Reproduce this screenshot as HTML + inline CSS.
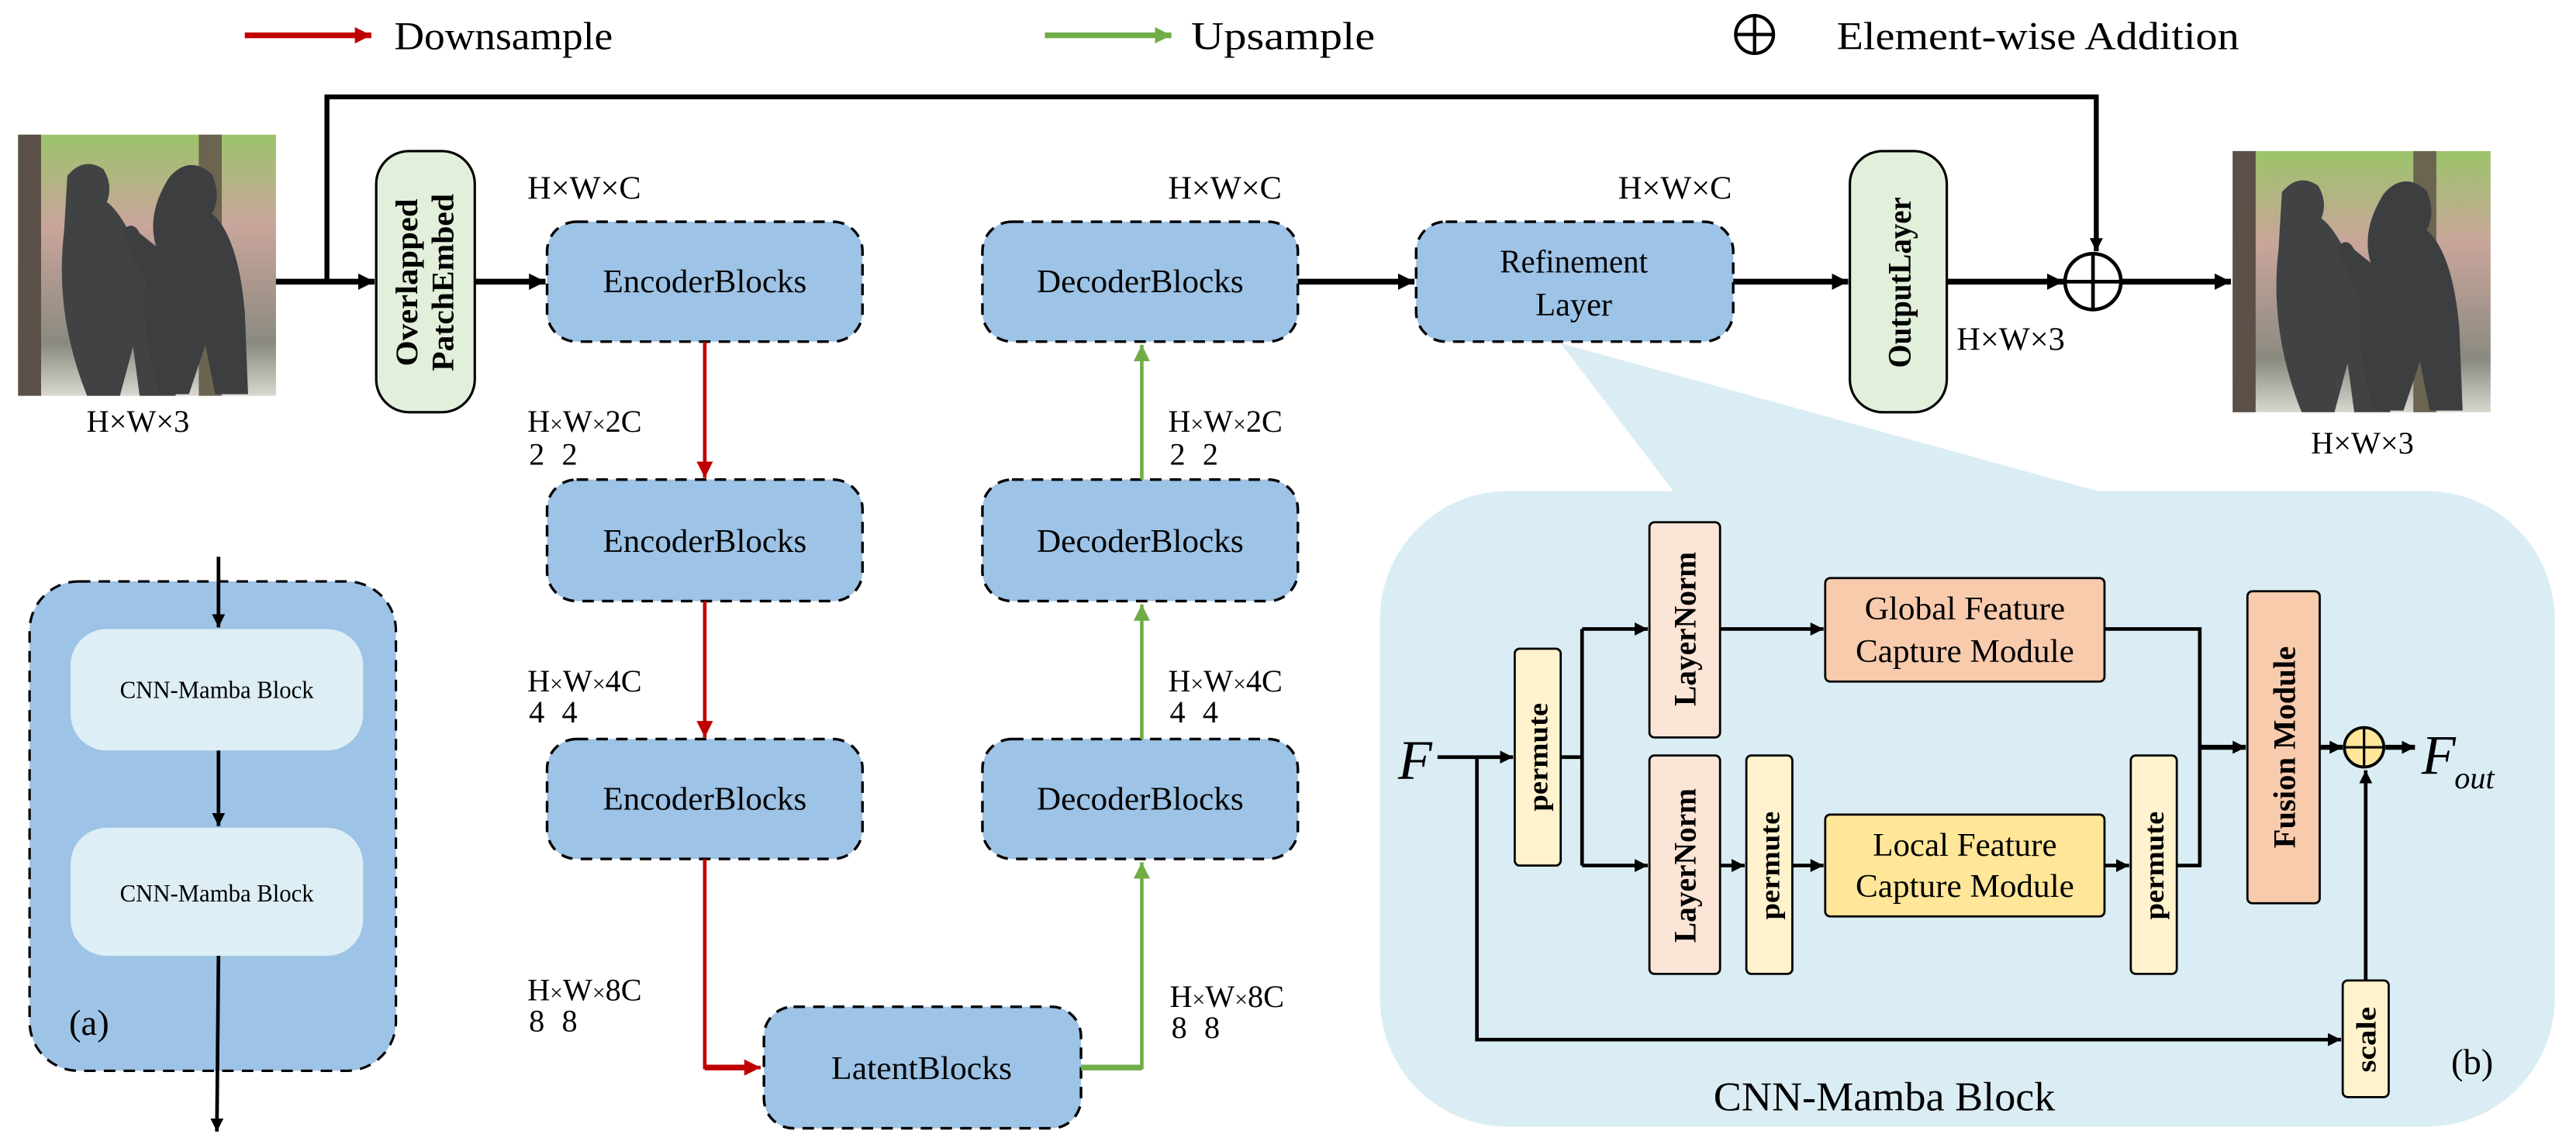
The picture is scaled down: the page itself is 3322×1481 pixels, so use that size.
<!DOCTYPE html>
<html><head><meta charset="utf-8"><style>
html,body{margin:0;padding:0;background:#fff;}
svg{display:block;}
svg text{font-family:"Liberation Serif","Noto Serif CJK SC","DejaVu Serif",serif !important;fill:#000;}
</style></head><body>
<svg width="3322" height="1481" viewBox="0 0 1568 699" preserveAspectRatio="none" xmlns="http://www.w3.org/2000/svg" font-family="Liberation Serif, Noto Serif CJK SC, serif">
<defs>
<marker id="ak" markerUnits="userSpaceOnUse" markerWidth="12" markerHeight="12" refX="10" refY="5" orient="auto"><path d="M0,0 L10,5 L0,10 z" fill="#000"/></marker>
<marker id="aks" markerUnits="userSpaceOnUse" markerWidth="10" markerHeight="10" refX="8" refY="4" orient="auto"><path d="M0,0 L8,4 L0,8 z" fill="#000"/></marker>
<marker id="ar" markerUnits="userSpaceOnUse" markerWidth="12" markerHeight="12" refX="10" refY="5" orient="auto"><path d="M0,0 L10,5 L0,10 z" fill="#c00000"/></marker>
<marker id="ag" markerUnits="userSpaceOnUse" markerWidth="12" markerHeight="12" refX="10" refY="5" orient="auto"><path d="M0,0 L10,5 L0,10 z" fill="#70ad47"/></marker>
<linearGradient id="bg" x1="0" y1="0" x2="0" y2="1"><stop offset="0" stop-color="#9cc46a"/><stop offset="0.35" stop-color="#c9a59b"/><stop offset="0.8" stop-color="#8a8a80"/><stop offset="1" stop-color="#d8d8d0"/></linearGradient>
<g id="photo">
<rect x="0" y="0" width="157" height="159" fill="url(#bg)"/>
<rect x="0" y="0" width="14" height="159" fill="#5a5048"/>
<rect x="110" y="0" width="14" height="159" fill="#6b6450"/>
<path d="M30,25 q10,-12 22,-4 q6,10 2,20 q14,10 30,60 q10,30 12,58 l-22,0 l-4,-30 l-8,30 l-20,0 q-20,-50 -14,-100 z" fill="#404244"/>
<path d="M92,26 q12,-14 26,-2 q6,14 0,24 q16,14 20,60 l2,50 l-20,0 l-6,-30 l-10,30 l-18,0 q-12,-40 -8,-70 q-8,-10 -14,-30 q6,-6 10,2 l10,8 q-6,-20 8,-42 z" fill="#3c3e40"/>
</g>
</defs>

<line x1="149" y1="21.5" x2="226" y2="21.5" stroke="#c00000" stroke-width="3.5" marker-end="url(#ar)"/>
<text x="240" y="30" font-size="24" textLength="133" lengthAdjust="spacingAndGlyphs">Downsample</text>
<line x1="636" y1="21.5" x2="713" y2="21.5" stroke="#70ad47" stroke-width="3.5" marker-end="url(#ag)"/>
<text x="725" y="30" font-size="24" textLength="112" lengthAdjust="spacingAndGlyphs">Upsample</text>
<circle cx="1068" cy="21" r="11.5" fill="none" stroke="#000" stroke-width="2"/>
<line x1="1056.5" y1="21" x2="1079.5" y2="21" stroke="#000" stroke-width="2"/>
<line x1="1068" y1="9.5" x2="1068" y2="32.5" stroke="#000" stroke-width="2"/>
<text x="1118" y="30" font-size="24" textLength="245" lengthAdjust="spacingAndGlyphs">Element-wise Addition</text>

<use href="#photo" transform="translate(11,82)"/>
<use href="#photo" transform="translate(1359,92)"/>
<text x="84" y="263" font-size="19" text-anchor="middle">H×W×3</text>
<text x="1438" y="276" font-size="19" text-anchor="middle">H×W×3</text>

<polyline points="199,171 199,59 1276,59 1276,153" fill="none" stroke="#000" stroke-width="3" marker-end="url(#aks)"/>

<line x1="168" y1="171.5" x2="228" y2="171.5" stroke="#000" stroke-width="3.5" marker-end="url(#ak)"/>
<rect x="229" y="92" width="60" height="159" rx="20" fill="#e2efda" stroke="#000" stroke-width="1.5"/>
<text transform="translate(254,172) rotate(-90)" font-size="19" font-weight="bold" text-anchor="middle" textLength="102" lengthAdjust="spacingAndGlyphs">Overlapped</text>
<text transform="translate(276,172) rotate(-90)" font-size="19" font-weight="bold" text-anchor="middle" textLength="108" lengthAdjust="spacingAndGlyphs">PatchEmbed</text>
<line x1="289" y1="171.5" x2="332" y2="171.5" stroke="#000" stroke-width="3.5" marker-end="url(#ak)"/>

<g fill="#9dc3e6" stroke="#000" stroke-width="1.6" stroke-dasharray="7,5">
<rect x="333" y="135" width="192" height="73" rx="18"/>
<rect x="333" y="292" width="192" height="74" rx="18"/>
<rect x="333" y="450" width="192" height="73" rx="18"/>
<rect x="598" y="135" width="192" height="73" rx="18"/>
<rect x="598" y="292" width="192" height="74" rx="18"/>
<rect x="598" y="450" width="192" height="73" rx="18"/>
<rect x="465" y="613" width="193" height="74" rx="18"/>
<rect x="862" y="135" width="193" height="73" rx="18"/>
</g>
<g font-size="20" text-anchor="middle">
<text x="429" y="178" textLength="124" lengthAdjust="spacingAndGlyphs">EncoderBlocks</text>
<text x="429" y="336" textLength="124" lengthAdjust="spacingAndGlyphs">EncoderBlocks</text>
<text x="429" y="493" textLength="124" lengthAdjust="spacingAndGlyphs">EncoderBlocks</text>
<text x="694" y="178" textLength="126" lengthAdjust="spacingAndGlyphs">DecoderBlocks</text>
<text x="694" y="336" textLength="126" lengthAdjust="spacingAndGlyphs">DecoderBlocks</text>
<text x="694" y="493" textLength="126" lengthAdjust="spacingAndGlyphs">DecoderBlocks</text>
<text x="561" y="657" textLength="110" lengthAdjust="spacingAndGlyphs">LatentBlocks</text>
<text x="958" y="166" textLength="90" lengthAdjust="spacingAndGlyphs">Refinement</text>
<text x="958" y="192">Layer</text>
</g>

<g fill="none" stroke-width="2.2">
<line x1="429" y1="208" x2="429" y2="291" stroke="#c00000" marker-end="url(#ar)"/>
<line x1="429" y1="366" x2="429" y2="449" stroke="#c00000" marker-end="url(#ar)"/>
<polyline points="429,523 429,650 463,650" stroke="#c00000" marker-end="url(#ar)"/>
<polyline points="658,650 695,650 695,525" stroke="#70ad47" marker-end="url(#ag)"/>
<line x1="695" y1="450" x2="695" y2="368" stroke="#70ad47" marker-end="url(#ag)"/>
<line x1="695" y1="292" x2="695" y2="210" stroke="#70ad47" marker-end="url(#ag)"/>
</g>
<line x1="429" y1="650" x2="455" y2="650" stroke="#c00000" stroke-width="3.5"/>
<line x1="658" y1="650" x2="695" y2="650" stroke="#70ad47" stroke-width="3.5"/>

<g font-size="20">
<text x="321" y="121">H×W×C</text>
<text x="711" y="121">H×W×C</text>
<text x="985" y="121">H×W×C</text>
<text x="1191" y="213">H×W×3</text>
</g>
<g font-size="19">
<text x="321" y="263">H<tspan font-size="14">×</tspan>W<tspan font-size="14">×</tspan>2C</text><text x="322" y="283">2</text><text x="342" y="283">2</text>
<text x="321" y="421">H<tspan font-size="14">×</tspan>W<tspan font-size="14">×</tspan>4C</text><text x="322" y="440">4</text><text x="342" y="440">4</text>
<text x="321" y="609">H<tspan font-size="14">×</tspan>W<tspan font-size="14">×</tspan>8C</text><text x="322" y="628">8</text><text x="342" y="628">8</text>
<text x="711" y="263">H<tspan font-size="14">×</tspan>W<tspan font-size="14">×</tspan>2C</text><text x="712" y="283">2</text><text x="732" y="283">2</text>
<text x="711" y="421">H<tspan font-size="14">×</tspan>W<tspan font-size="14">×</tspan>4C</text><text x="712" y="440">4</text><text x="732" y="440">4</text>
<text x="712" y="613">H<tspan font-size="14">×</tspan>W<tspan font-size="14">×</tspan>8C</text><text x="713" y="632">8</text><text x="733" y="632">8</text>
</g>

<line x1="790" y1="171.5" x2="861" y2="171.5" stroke="#000" stroke-width="3.5" marker-end="url(#ak)"/>
<line x1="1055" y1="171.5" x2="1125" y2="171.5" stroke="#000" stroke-width="3.5" marker-end="url(#ak)"/>
<rect x="1126" y="92" width="59" height="159" rx="20" fill="#e2efda" stroke="#000" stroke-width="1.5"/>
<text transform="translate(1163,172) rotate(-90)" font-size="20" font-weight="bold" text-anchor="middle" textLength="104" lengthAdjust="spacingAndGlyphs">OutputLayer</text>
<line x1="1185" y1="171.5" x2="1256" y2="171.5" stroke="#000" stroke-width="3.5" marker-end="url(#ak)"/>
<circle cx="1274" cy="171.5" r="17" fill="#fff" stroke="#000" stroke-width="2.2"/>
<line x1="1257" y1="171.5" x2="1291" y2="171.5" stroke="#000" stroke-width="2.2"/>
<line x1="1274" y1="154.5" x2="1274" y2="188.5" stroke="#000" stroke-width="2.2"/>
<line x1="1291" y1="171.5" x2="1358" y2="171.5" stroke="#000" stroke-width="3.5" marker-end="url(#ak)"/>

<rect x="18" y="354" width="223" height="298" rx="30" fill="#9dc3e6" stroke="#000" stroke-width="1.5" stroke-dasharray="7,5"/>
<rect x="43" y="383" width="178" height="74" rx="22" fill="#deeef5"/>
<rect x="43" y="504" width="178" height="78" rx="22" fill="#deeef5"/>
<text x="132" y="425" font-size="15" text-anchor="middle" textLength="118" lengthAdjust="spacingAndGlyphs">CNN-Mamba Block</text>
<text x="132" y="549" font-size="15" text-anchor="middle" textLength="118" lengthAdjust="spacingAndGlyphs">CNN-Mamba Block</text>
<text x="42" y="630" font-size="22">(a)</text>
<g stroke="#000" stroke-width="2.2">
<line x1="133" y1="339" x2="133" y2="382" marker-end="url(#aks)"/>
<line x1="133" y1="457" x2="133" y2="503" marker-end="url(#aks)"/>
<line x1="133" y1="582" x2="132" y2="689" marker-end="url(#aks)"/>
</g>

<polygon points="950,209 1020,301 1284,301" fill="#daedf4"/>
<rect x="840" y="299" width="715" height="387" rx="78" fill="#daedf4"/>

<g stroke="#000" stroke-width="1.3">
<rect x="922" y="395" width="28" height="132" rx="3" fill="#fff2cc"/>
<rect x="1004" y="318" width="43" height="131" rx="3" fill="#fbe5d6"/>
<rect x="1004" y="460" width="43" height="133" rx="3" fill="#fbe5d6"/>
<rect x="1063" y="460" width="28" height="133" rx="3" fill="#fff2cc"/>
<rect x="1111" y="352" width="170" height="63" rx="3" fill="#f8cbad"/>
<rect x="1111" y="496" width="170" height="62" rx="3" fill="#ffe699"/>
<rect x="1297" y="460" width="28" height="133" rx="3" fill="#fff2cc"/>
<rect x="1368" y="360" width="44" height="190" rx="3" fill="#f8cbad"/>
<rect x="1426" y="597" width="28" height="71" rx="3" fill="#fff2cc"/>
</g>
<g font-weight="bold" text-anchor="middle">
<text transform="translate(942,461) rotate(-90)" font-size="17" textLength="66" lengthAdjust="spacingAndGlyphs">permute</text>
<text transform="translate(1032,383) rotate(-90)" font-size="19" textLength="94" lengthAdjust="spacingAndGlyphs">LayerNorm</text>
<text transform="translate(1032,527) rotate(-90)" font-size="19" textLength="94" lengthAdjust="spacingAndGlyphs">LayerNorm</text>
<text transform="translate(1083,527) rotate(-90)" font-size="17" textLength="66" lengthAdjust="spacingAndGlyphs">permute</text>
<text transform="translate(1317,527) rotate(-90)" font-size="17" textLength="66" lengthAdjust="spacingAndGlyphs">permute</text>
<text transform="translate(1397,455) rotate(-90)" font-size="19" textLength="123" lengthAdjust="spacingAndGlyphs">Fusion Module</text>
<text transform="translate(1446,633) rotate(-90)" font-size="17" textLength="40" lengthAdjust="spacingAndGlyphs">scale</text>
</g>
<g font-size="20" text-anchor="middle">
<text x="1196" y="377" textLength="122" lengthAdjust="spacingAndGlyphs">Global Feature</text>
<text x="1196" y="403" textLength="133" lengthAdjust="spacingAndGlyphs">Capture Module</text>
<text x="1196" y="521" textLength="112" lengthAdjust="spacingAndGlyphs">Local Feature</text>
<text x="1196" y="546" textLength="133" lengthAdjust="spacingAndGlyphs">Capture Module</text>
</g>
<text x="1147" y="676" font-size="25" text-anchor="middle" textLength="208" lengthAdjust="spacingAndGlyphs">CNN-Mamba Block</text>
<text x="1492" y="654" font-size="22">(b)</text>
<text x="851" y="474" font-size="34" font-style="italic">F</text>
<text x="1474" y="471" font-size="34" font-style="italic">F</text>
<text x="1494" y="480" font-size="19" font-style="italic">out</text>

<g fill="none" stroke="#000" stroke-width="2.2">
<line x1="875" y1="461" x2="921" y2="461" marker-end="url(#aks)"/>
<polyline points="899,461 899,633 1425,633" marker-end="url(#aks)"/>
<line x1="950" y1="461" x2="963" y2="461"/>
<polyline points="963,383 963,527"/>
<line x1="963" y1="383" x2="1003" y2="383" marker-end="url(#aks)"/>
<line x1="963" y1="527" x2="1003" y2="527" marker-end="url(#aks)"/>
<line x1="1047" y1="383" x2="1110" y2="383" marker-end="url(#aks)"/>
<line x1="1047" y1="527" x2="1062" y2="527" marker-end="url(#aks)"/>
<line x1="1091" y1="527" x2="1110" y2="527" marker-end="url(#aks)"/>
<line x1="1281" y1="527" x2="1296" y2="527" marker-end="url(#aks)"/>
<polyline points="1281,383 1339,383 1339,527 1325,527"/>
<line x1="1339" y1="455" x2="1367" y2="455" stroke-width="3" marker-end="url(#aks)"/>
<line x1="1412" y1="455" x2="1426" y2="455" stroke-width="3" marker-end="url(#aks)"/>
<line x1="1452" y1="455" x2="1470" y2="455" stroke-width="3" marker-end="url(#aks)"/>
<line x1="1440" y1="597" x2="1440" y2="469" marker-end="url(#aks)"/>
</g>
<circle cx="1439" cy="455" r="12" fill="#ffe699" stroke="#000" stroke-width="1.8"/>
<line x1="1427" y1="455" x2="1451" y2="455" stroke="#000" stroke-width="1.5"/>
<line x1="1439" y1="443" x2="1439" y2="467" stroke="#000" stroke-width="1.5"/>
</svg>
</body></html>
